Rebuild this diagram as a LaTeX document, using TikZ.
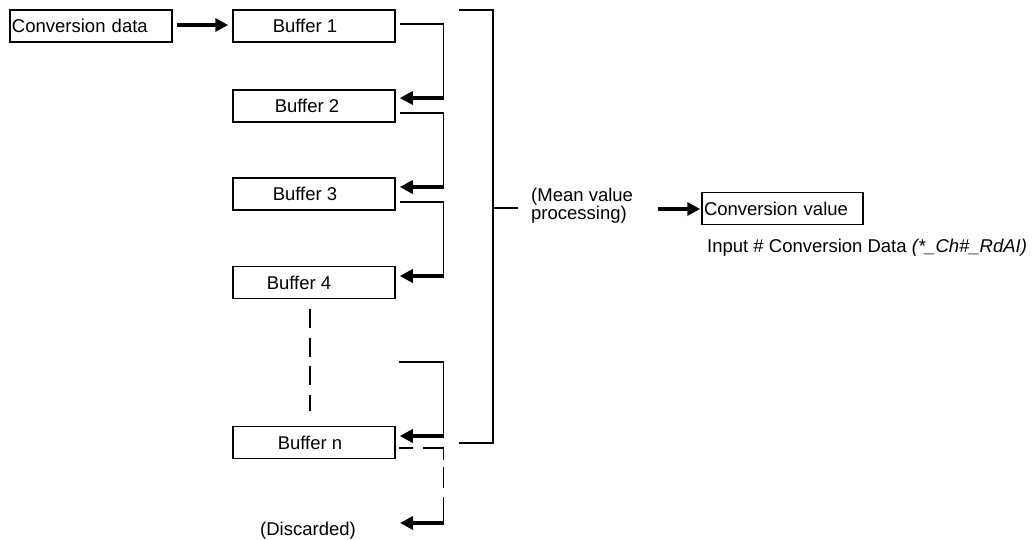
\documentclass[tikz,border=0pt]{standalone}
\usepackage{fontspec}
\setmainfont{Liberation Sans}
\usetikzlibrary{arrows.meta,calc}
\newcommand{\bufshiftleft}[2]{\hspace*{-#1pt}\hspace*{-#1pt}#2}
\begin{document}
\begin{tikzpicture}[x=1pt,y=-1pt,
  box/.style={draw,line width=1.5pt,minimum height=32pt,inner sep=0pt,font=\fontsize{18.5}{20}\selectfont},
  buf/.style={box,minimum width=162pt},
  conn/.style={line width=1.6pt},
  arr/.style={line width=3.2pt,-{Triangle[length=13pt,width=13pt]}},
  dashout/.style={conn,dash pattern=on 14pt off 10pt on 32.5pt off 7pt on 21pt off 9pt on 26pt off 0pt},
  dashv/.style={conn,dash pattern=on 19pt off 9.5pt},
  lbl/.style={font=\fontsize{18.5}{18}\selectfont,inner sep=0pt},
]
\useasboundingbox (0,0) rectangle (1033,540);
% nodes
\node[box,minimum width=162pt,text width=158pt,inner xsep=2pt,align=left] (cd) at (91,26) {Conversion data};
\node[buf] (b1) at (314,26) {\bufshiftleft{9}{Buffer 1}};
\node[buf] (b2) at (314,106) {\bufshiftleft{7}{Buffer 2}};
\node[buf] (b3) at (314,194) {\bufshiftleft{9}{Buffer 3}};
\node[buf] (b4) at (314,282.5) {\bufshiftleft{15}{Buffer 4}};
\node[buf] (bn) at (314,442.5) {\bufshiftleft{4}{Buffer n}};
\node[box,minimum width=161pt,text width=157pt,inner xsep=2pt,align=left] (cv) at (782.5,208.5) {Conversion value};
\node[lbl,anchor=west,align=left] (mv) at (531,206) {(Mean value\\processing)};
\node[lbl,anchor=west] (inp) at (707,248) {Input \# Conversion Data \textit{(*\_Ch\#\_RdAI)}};
\node[lbl] (disc) at (308,531) {(Discarded)};
% coordinates
\coordinate (r1) at (443.5,98);
\coordinate (r2) at (443.5,187);
\coordinate (r3) at (443.5,276);
\coordinate (s4) at (399,362);
\coordinate (r4) at (443.5,436);
\coordinate (o5) at (399,448);
\coordinate (r5) at (443.5,523);
\coordinate (dend) at (400,523);
\coordinate (bt) at (459,10);
\coordinate (bb) at (459,443);
\coordinate (mid) at (493,208);
\coordinate (ma) at (658,209);
% input arrow
\draw[arr,shorten >=4pt] ($(cd.east)+(4,-1)$) -- ($(b1.west)+(0,-1)$);
% shift chain
\draw[conn] ($(b1.east)+(4,-2)$) -| (r1);
\draw[arr,shorten >=4pt] (r1) -- (b2.east |- r1);
\draw[conn] ($(b2.east)+(4,7)$) -| (r2);
\draw[arr,shorten >=4pt] (r2) -- (b3.east |- r2);
\draw[conn] ($(b3.east)+(4,8)$) -| (r3);
\draw[arr,shorten >=4pt] (r3) -- (b4.east |- r3);
\draw[conn] (s4) -| (r4);
\draw[arr,shorten >=4pt] (r4) -- (bn.east |- r4);
% dashed continuation
\draw[dashv] ($(b4.south)+(-4,10)$) -- ($(bn.north)+(-4,-15)$);
\draw[dashout] (o5) -| (r5);
\draw[arr] (r5) -- (dend);
% bracket
\draw[conn] (bt) -- (bt -| mid) -- (bb -| mid) -- (bb);
\draw[conn] (mid) -- ++(25,0);
% output arrow
\draw[arr,shorten >=1pt] (ma) -- (ma -| cv.west);
\end{tikzpicture}
\end{document}
